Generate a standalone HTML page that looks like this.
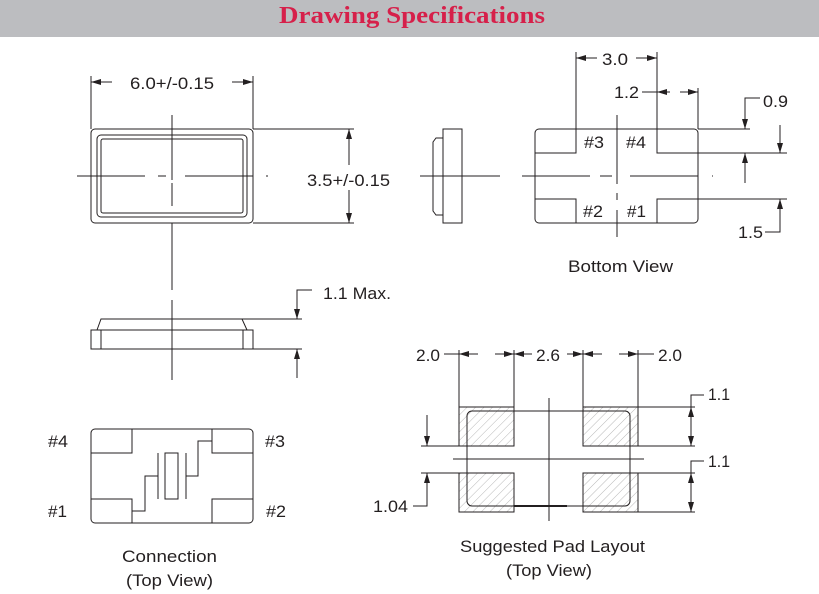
<!DOCTYPE html>
<html><head><meta charset="utf-8"><style>
html,body{margin:0;padding:0;background:#fff;width:819px;height:594px;overflow:hidden}
svg text{font-family:"Liberation Sans",sans-serif;font-size:17px;fill:#231f20}
</style></head><body>
<svg width="819" height="594" viewBox="0 0 819 594" xmlns="http://www.w3.org/2000/svg">
<defs>
<marker id="a" viewBox="0 0 10 6" refX="10" refY="3" markerWidth="13" markerHeight="6" orient="auto-start-reverse" markerUnits="userSpaceOnUse"><path d="M0,0L10,3L0,6z" fill="#231f20"/></marker>
<pattern id="h" width="6" height="6" patternUnits="userSpaceOnUse" patternTransform="rotate(45)"><line x1="0" y1="0" x2="0" y2="6" stroke="#999" stroke-width="0.7"/></pattern>
</defs>
<rect x="0" y="0" width="819" height="37" fill="#bcbdc0"/>
<text x="279" y="23" textLength="266" lengthAdjust="spacingAndGlyphs" style="font-family:'Liberation Serif',serif;font-weight:bold;font-size:24px;fill:#d6204a">Drawing Specifications</text>

<g stroke="#231f20" stroke-width="1" fill="none">
<rect x="91" y="129" width="162" height="94" rx="4"/>
<rect x="97" y="135" width="150" height="82" rx="4"/>
<rect x="101" y="139" width="142" height="74" rx="2"/>
<path d="M172 115V180M172 183V206M172 223V290M172 300V380" />
<path d="M77 176H145M158 176H166M185 176H253M266 176H268"/>
<path d="M91 76V129M253 76V129"/>
<path d="M112 82H91" marker-end="url(#a)"/><path d="M232 82H253" marker-end="url(#a)"/>
<path d="M253 129H354M253 223H354"/>
<path d="M349 165V129" marker-end="url(#a)"/><path d="M349 190V223" marker-end="url(#a)"/>
<path d="M97 330L101 319H242L247 330"/>
<rect x="91" y="330" width="162" height="19"/>
<path d="M101 330V349M243 330V349"/>
<path d="M242 319H302M253 349H302"/>
<path d="M312 290H297V319" marker-end="url(#a)"/>
<path d="M297 378V349" marker-end="url(#a)"/>
<rect x="443" y="129" width="19" height="94"/>
<path d="M443 138H436L433 142V211L436 215H443M443 138V215"/>
<path d="M420 176H500"/>
<rect x="535" y="129" width="163" height="94" rx="4"/>
<path d="M535 153H576V129M698 153H657V129M535 199H576V223M698 199H657V223"/>
<path d="M617 115V184M617 193V200M617 210V237"/>
<path d="M522 176H590M600 176H612M630 176H698M712 176H713"/>
<path d="M576 52V129M657 52V153M698 88V129"/>
<path d="M597 58H576" marker-end="url(#a)"/><path d="M636 58H657" marker-end="url(#a)"/>
<path d="M642 92H657"/><path d="M670 92H657" marker-end="url(#a)"/><path d="M680 92H698" marker-end="url(#a)"/>
<path d="M698 129H750M657 153H787M698 199H787"/>
<path d="M760 98H745V129" marker-end="url(#a)"/>
<path d="M780 125V153" marker-end="url(#a)"/>
<path d="M745 183V153" marker-end="url(#a)"/>
<path d="M765 232H780V199" marker-end="url(#a)"/>
<rect x="459" y="407" width="55" height="39" fill="url(#h)"/>
<rect x="583" y="407" width="55" height="39" fill="url(#h)"/>
<rect x="459" y="473" width="55" height="39" fill="url(#h)"/>
<rect x="583" y="473" width="55" height="39" fill="url(#h)"/>
<rect x="467" y="411" width="163" height="95" rx="5"/>
<path d="M514 506H567" stroke-width="2"/>
<path d="M549 398V521M453 459H644"/>
<path d="M459 350V407M514 350V407M583 350V407M638 350V407"/>
<path d="M444 354H459"/><path d="M478 354H459" marker-end="url(#a)"/><path d="M495 354H514" marker-end="url(#a)"/>
<path d="M532 354H514" marker-end="url(#a)"/><path d="M567 354H583" marker-end="url(#a)"/>
<path d="M602 354H583" marker-end="url(#a)"/><path d="M619 354H638" marker-end="url(#a)"/><path d="M638 354H654"/>
<path d="M638 407H695M638 446H695M638 473H695M638 512H695"/>
<path d="M704 395H691V407"/>
<path d="M691 427V407" marker-end="url(#a)"/><path d="M691 427V446" marker-end="url(#a)"/>
<path d="M704 461H691V473"/>
<path d="M691 492V473" marker-end="url(#a)"/><path d="M691 492V512" marker-end="url(#a)"/>
<path d="M421 446H459M421 473H459"/>
<path d="M427 415V446" marker-end="url(#a)"/>
<path d="M413 506H427V473" marker-end="url(#a)"/>
<rect x="91" y="429" width="162" height="94" rx="4"/>
<path d="M91 453H132V429M91 499H132V523M253 453H212V429M253 499H212V523"/>
<path d="M158 453V499M186 453V499"/>
<rect x="165" y="453" width="13" height="46"/>
<path d="M132 511H145V476H158M186 476H198V441H212"/>
</g>

<text x="130" y="89" textLength="84" lengthAdjust="spacingAndGlyphs">6.0+/-0.15</text>
<text x="307" y="186" textLength="83" lengthAdjust="spacingAndGlyphs">3.5+/-0.15</text>
<text x="323" y="299" textLength="68" lengthAdjust="spacingAndGlyphs">1.1 Max.</text>
<text x="602" y="65" textLength="26" lengthAdjust="spacingAndGlyphs">3.0</text>
<text x="614" y="98" textLength="25" lengthAdjust="spacingAndGlyphs">1.2</text>
<text x="763" y="107" textLength="25" lengthAdjust="spacingAndGlyphs">0.9</text>
<text x="738" y="238" textLength="25" lengthAdjust="spacingAndGlyphs">1.5</text>
<text x="584" y="148" textLength="20" lengthAdjust="spacingAndGlyphs">#3</text>
<text x="626" y="148" textLength="20" lengthAdjust="spacingAndGlyphs">#4</text>
<text x="583" y="217" textLength="20" lengthAdjust="spacingAndGlyphs">#2</text>
<text x="627" y="217" textLength="19" lengthAdjust="spacingAndGlyphs">#1</text>
<text x="568" y="272" textLength="105" lengthAdjust="spacingAndGlyphs">Bottom View</text>
<text x="416" y="361" textLength="24" lengthAdjust="spacingAndGlyphs">2.0</text>
<text x="536" y="361" textLength="24" lengthAdjust="spacingAndGlyphs">2.6</text>
<text x="658" y="361" textLength="24" lengthAdjust="spacingAndGlyphs">2.0</text>
<text x="708" y="400" textLength="22" lengthAdjust="spacingAndGlyphs">1.1</text>
<text x="708" y="467" textLength="22" lengthAdjust="spacingAndGlyphs">1.1</text>
<text x="373" y="512" textLength="35" lengthAdjust="spacingAndGlyphs">1.04</text>
<text x="460" y="552" textLength="185" lengthAdjust="spacingAndGlyphs">Suggested Pad Layout</text>
<text x="506" y="576" textLength="86" lengthAdjust="spacingAndGlyphs">(Top View)</text>
<text x="48" y="447" textLength="20" lengthAdjust="spacingAndGlyphs">#4</text>
<text x="265" y="447" textLength="20" lengthAdjust="spacingAndGlyphs">#3</text>
<text x="48" y="517" textLength="19" lengthAdjust="spacingAndGlyphs">#1</text>
<text x="266" y="517" textLength="20" lengthAdjust="spacingAndGlyphs">#2</text>
<text x="122" y="562" textLength="95" lengthAdjust="spacingAndGlyphs">Connection</text>
<text x="126" y="586" textLength="87" lengthAdjust="spacingAndGlyphs">(Top View)</text>
</svg>
</body></html>
